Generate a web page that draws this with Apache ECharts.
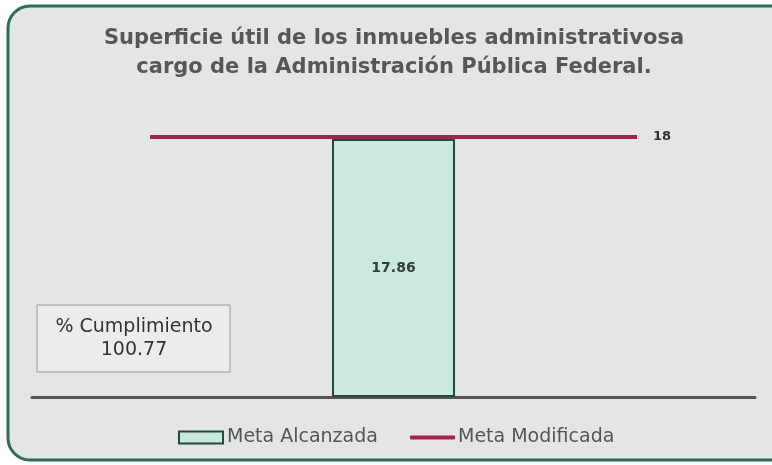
<!DOCTYPE html>
<html><head><meta charset="utf-8">
<script src="https://cdn.jsdelivr.net/npm/echarts@6/dist/echarts.min.js"></script>
<style>html,body{margin:0;padding:0;background:#fff}#c{width:772px;height:465px}</style>
</head><body><div id="c"></div>
<script>
const titleLines = ['Superficie útil de los inmuebles administrativosa', 'cargo de la Administración Pública Federal.'];
const categories = ['2023'];
const metaAlcanzada = [17.86];
const metaModificada = [18, 18];
const lineCategories = ['a', 'b'];
const cumplimientoLabel = '% Cumplimiento';
const cumplimientoValue = '100.77';
const yMin = 0, yMax = 20;

const chart = echarts.init(document.getElementById('c'));
const bodyFont = '"DejaVu Sans", sans-serif';
chart.setOption({
  backgroundColor: 'transparent',
  animation: false,
  graphic: [
    { type: 'rect', z: -10, shape: { x: 8, y: 6, width: 790, height: 454, r: 22 },
      style: { fill: '#e3e6e5', stroke: '#2f6b58', lineWidth: 3 } },
    { type: 'text', z: 11, x: 394, y: 24,
      style: { text: titleLines.join('\n'), fill: '#575757', font: 'bold 21px "DejaVu Sans", sans-serif', align: 'center', verticalAlign: 'top', lineHeight: 29 } },
    { type: 'rect', z: 10, shape: { x: 37, y: 305, width: 193, height: 67 },
      style: { fill: '#ebecec', stroke: '#9a9a9a', lineWidth: 1 } },
    { type: 'text', z: 11, x: 134, y: 339,
      style: { text: cumplimientoLabel + '\n' + cumplimientoValue, fill: '#333333', font: '19px "DejaVu Sans", sans-serif', align: 'center', verticalAlign: 'middle', lineHeight: 23 } }
  ],
  legend: [
    { bottom: 13, left: 173, itemWidth: 44, itemHeight: 12, itemGap: 0,
      textStyle: { fontFamily: bodyFont, fontSize: 19, color: '#555555', padding: [0, 0, 0, -1] },
      data: [{ name: 'Meta Alcanzada', icon: 'rect', itemStyle: { color: '#c9e8e0', borderColor: '#234a3f', borderWidth: 2 } }] },
    { bottom: 13, left: 405, itemWidth: 45, itemHeight: 4, itemGap: 0,
      textStyle: { fontFamily: bodyFont, fontSize: 19, color: '#555555', padding: [0, 0, 0, -2] },
      data: [{ name: 'Meta Modificada', icon: 'roundRect', itemStyle: { color: '#a5224a' } }] }
  ],
  grid: [
    { left: 32, right: 17, top: 108, bottom: 68 },
    { left: 150, right: 135, top: 108, bottom: 68 }
  ],
  xAxis: [
    { type: 'category', gridIndex: 0, data: categories,
      axisLine: { lineStyle: { color: '#555555', width: 3 } },
      axisTick: { show: false }, axisLabel: { show: false } },
    { type: 'category', gridIndex: 1, data: lineCategories, boundaryGap: false, show: false }
  ],
  yAxis: [
    { type: 'value', gridIndex: 0, min: yMin, max: yMax, show: false, splitLine: { show: false } },
    { type: 'value', gridIndex: 1, min: yMin, max: yMax, show: false, splitLine: { show: false } }
  ],
  series: [
    { name: 'Meta Alcanzada', type: 'bar', xAxisIndex: 0, yAxisIndex: 0, data: metaAlcanzada, barWidth: 123,
      itemStyle: { color: '#c9e8e0', borderColor: '#234a3f', borderWidth: 2 },
      label: { show: true, position: 'inside', color: '#333d3a', fontWeight: 'bold', fontSize: 14, fontFamily: bodyFont } },
    { name: 'Meta Modificada', type: 'line', xAxisIndex: 1, yAxisIndex: 1, data: metaModificada, z: 5,
      symbol: 'none', lineStyle: { color: '#a5224a', width: 4 }, itemStyle: { color: '#a5224a' },
      endLabel: { show: true, distance: 16, color: '#333333', fontWeight: 'bold', fontSize: 13, fontFamily: bodyFont } }
  ]
});
</script></body></html>
